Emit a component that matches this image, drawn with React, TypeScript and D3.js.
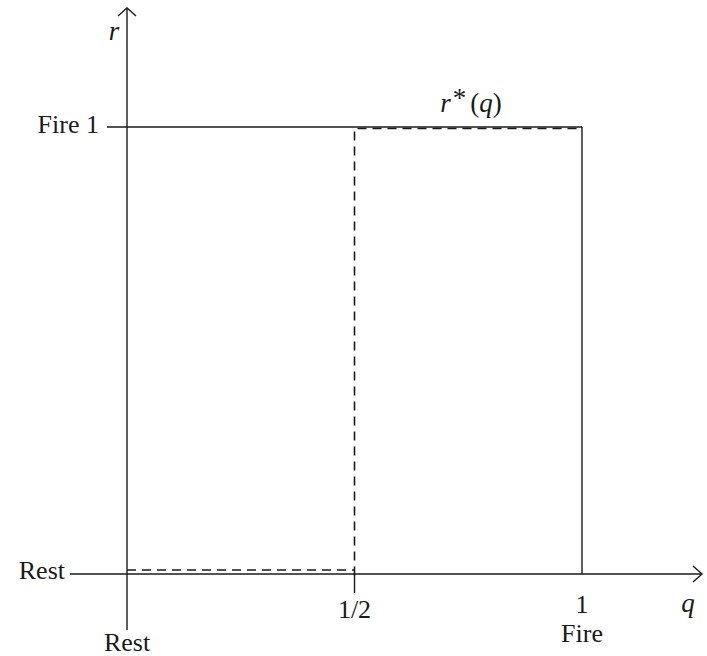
import React from "react";
import * as d3 from "d3";

// Best-response step function r*(q): Rest below q = 1/2, Fire 1 above it.
const qTicks = [
  { q: 0, label: "Rest" },
  { q: 0.5, label: "1/2" },
  { q: 1, label: "1" },
];
const rTicks = [
  { r: 0, label: "Rest" },
  { r: 1, label: "Fire 1" },
];
const threshold = 0.5;
const lowSegment = [
  [0, 0],
  [threshold, 0],
];
const highSegment = [
  [threshold, 0],
  [threshold, 1],
  [1, 1],
];

const W = 707;
const H = 656;
const FONT = "'Liberation Serif', 'DejaVu Serif', serif";
const INK = "#1a1a1a";

export default function App() {
  const x = d3.scaleLinear().domain([0, 1]).range([127, 582]);
  const y = d3.scaleLinear().domain([0, 1]).range([574, 127]);

  const line = d3
    .line<number[]>()
    .x((d) => x(d[0]))
    .y((d) => y(d[1]));

  const x0 = x(0);
  const y0 = y(0);
  const y1 = y(1);
  const xEnd = 702;
  const yTop = 8;

  return (
    <svg
      width={W}
      height={H}
      style={{ position: "absolute", left: 0, top: 0, background: "#fff" }}
      fontFamily={FONT}
    >
      {/* axes */}
      <g stroke={INK} strokeWidth={1.4} fill="none">
        <line x1={70} y1={y0} x2={xEnd} y2={y0} />
        <line x1={x0} y1={630} x2={x0} y2={yTop} />
        <polyline points={`${xEnd - 9},${y0 - 8} ${xEnd},${y0} ${xEnd - 9},${y0 + 8}`} />
        <polyline points={`${x0 - 9},${yTop + 8} ${x0},${yTop} ${x0 + 9},${yTop + 8}`} />
        {/* Fire 1 level, tick to the right edge of the unit square */}
        <line x1={107} y1={y1} x2={x(1)} y2={y1} />
        {/* q = 1 boundary */}
        <line x1={x(1)} y1={y1} x2={x(1)} y2={y0} />
        {/* 1/2 tick below the axis */}
        <line x1={x(threshold)} y1={y0} x2={x(threshold)} y2={593} />
      </g>

      {/* r*(q) as dashed segments */}
      <g stroke={INK} strokeWidth={1.6} fill="none" strokeDasharray="9 6">
        <path d={line(lowSegment) || ""} transform="translate(0,-4)" />
        <path d={line(highSegment) || ""} transform="translate(0,1.5)" />
      </g>

      {/* labels */}
      <g fill={INK} fontSize={26}>
        <text x={114} y={40} textAnchor="middle" fontStyle="italic" fontSize={27}>r</text>
        <text x={99} y={y1 + 6} textAnchor="end">{rTicks[1].label}</text>
        <text x={65} y={y0 + 5} textAnchor="end">{rTicks[0].label}</text>
        <text x={x(qTicks[0].q)} y={651} textAnchor="middle">{qTicks[0].label}</text>
        <text x={x(qTicks[1].q)} y={618} textAnchor="middle">{qTicks[1].label}</text>
        <text x={x(qTicks[2].q)} y={613} textAnchor="middle">{qTicks[2].label}</text>
        <text x={x(1)} y={642} textAnchor="middle">Fire</text>
        <text x={688} y={612} textAnchor="middle" fontStyle="italic" fontSize={27}>q</text>
        <text x={471} y={112} textAnchor="middle" fontSize={27}>
          <tspan fontStyle="italic">r</tspan>
          <tspan dx={2} dy={-5}>*</tspan>
          <tspan dx={4} dy={5}>(</tspan>
          <tspan fontStyle="italic">q</tspan>
          <tspan>)</tspan>
        </text>
      </g>
    </svg>
  );
}
